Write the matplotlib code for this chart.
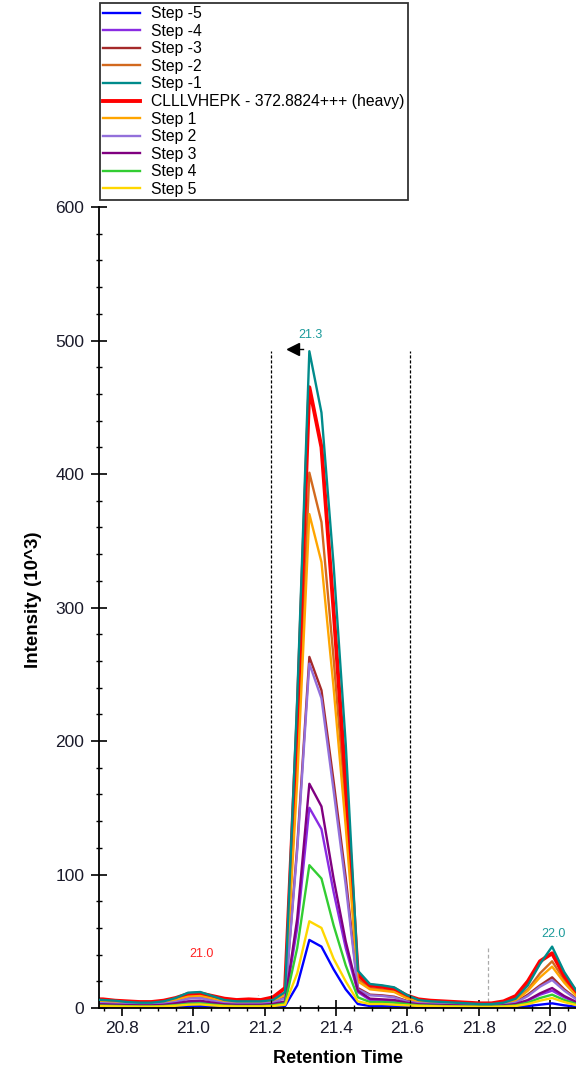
import matplotlib.pyplot as plt
from matplotlib.ticker import MultipleLocator

plt.rcParams['font.family'] = ['Liberation Sans', 'DejaVu Sans']

# retention times of the scans (minutes)
rt = [20.712, 20.746, 20.780, 20.814, 20.848, 20.882, 20.916, 20.950, 20.985, 21.019,
      21.053, 21.087, 21.121, 21.155, 21.189, 21.223, 21.257, 21.291, 21.325, 21.359,
      21.393, 21.427, 21.461, 21.495, 21.529, 21.563, 21.597, 21.631, 21.665, 21.700,
      21.734, 21.768, 21.802, 21.836, 21.870, 21.904, 21.938, 21.972, 22.006, 22.040,
      22.074, 22.108]

# intensities (10^3)
step_m5 = [1, 0.9, 0.8, 0.7, 0.6, 0.6, 0.7, 1, 1.5, 1.6, 1.2, 0.8, 0.7, 0.7, 0.7, 0.9, 1.5,
           17, 51, 46, 29, 14, 3, 1.5, 1.5, 1.5, 1,
           0.8, 0.7, 0.6, 0.6, 0.5, 0.5, 0.5, 0.6, 0.8, 1.5, 2.5, 3.5, 2, 1, 0.6]
step_m4 = [2.5, 2.3, 2, 1.8, 1.6, 1.6, 2, 3, 4.5, 4.8, 3.5, 2.3, 2, 2, 2, 2.5, 4.5,
           60, 150, 134, 87, 45, 12, 6, 5.5, 5, 3.5,
           2.5, 2.2, 2, 1.8, 1.6, 1.4, 1.4, 1.8, 2.5, 5.5, 10, 13, 8, 4, 2]
step_m3 = [4.5, 4, 3.5, 3.2, 3, 3, 3.5, 5, 7.5, 8, 6, 4, 3.5, 3.5, 3.5, 4.5, 8,
           121, 263, 238, 170, 98, 15, 10, 9.5, 8.5, 5.5,
           4, 3.5, 3, 2.8, 2.5, 2.3, 2.3, 2.8, 4.5, 10, 17, 23, 14, 7, 3.5]
step_m2 = [5.5, 5, 4.5, 4, 3.8, 3.8, 4.5, 6.5, 9.5, 10, 7.5, 5, 4.5, 4.5, 4.5, 5.5, 11,
           184, 401, 364, 262, 150, 22, 15, 14, 13, 8,
           5, 4.5, 4, 3.5, 3, 2.8, 2.8, 3.5, 6, 14, 26, 35, 21, 10, 5]
step_m1 = [6.5, 6, 5.5, 4.5, 4, 4, 5, 7.5, 11.5, 12, 9, 6, 5, 5, 5, 6, 12,
           232, 492, 446, 332, 198, 28, 18, 17, 15.5, 10,
           6, 5, 4.5, 4, 3.5, 3, 3, 4, 7, 17, 33, 46, 27, 13, 6]
heavy = [6.5, 6.5, 5.5, 5, 4.5, 4.5, 5.5, 7.5, 10.5, 11, 9, 7, 6, 6.5, 6, 8, 15,
         214, 465, 420, 298, 168, 25, 17, 16, 14.5, 9.5,
         6.5, 5.5, 5, 4.5, 4, 3.5, 3.5, 5, 9, 20, 35, 41, 24, 12, 5]
step_1 = [5, 4.5, 4, 3.6, 3.4, 3.4, 4, 6, 8.5, 9, 7, 4.5, 4, 4, 4, 5, 10,
          170, 370, 334, 240, 136, 20, 14, 13, 12, 7.5,
          4.5, 4, 3.5, 3.2, 2.8, 2.6, 2.6, 3.2, 5.5, 13, 23, 31, 19, 9, 4.5]
step_2 = [4, 3.6, 3.2, 3, 2.8, 2.8, 3.2, 4.5, 7, 7.5, 5.5, 3.6, 3.2, 3.2, 3.2, 4, 7.5,
          118, 258, 232, 163, 92, 14, 9.5, 9, 8, 5,
          3.6, 3.2, 2.8, 2.5, 2.3, 2.1, 2.1, 2.5, 4, 9, 16, 21, 13, 6.5, 3]
step_3 = [3, 2.8, 2.5, 2.2, 2, 2, 2.4, 3.5, 5, 5.5, 4, 2.8, 2.4, 2.4, 2.4, 3, 5,
          67, 168, 151, 97, 50, 13, 7, 6.5, 6, 4,
          2.8, 2.5, 2.2, 2, 1.8, 1.6, 1.6, 2, 3, 6, 11, 15, 9, 4.5, 2.5]
step_4 = [2, 1.8, 1.6, 1.4, 1.2, 1.2, 1.5, 2.2, 3.2, 3.5, 2.6, 1.8, 1.5, 1.5, 1.5, 2, 3.5,
          45, 107, 97, 62, 32, 8, 4.5, 4.5, 4, 3,
          2, 1.8, 1.5, 1.3, 1.2, 1.1, 1.1, 1.4, 2, 4, 7.5, 10, 6, 3, 1.5]
step_5 = [1.5, 1.4, 1.2, 1.1, 1, 1, 1.2, 1.7, 2.5, 2.7, 2, 1.4, 1.2, 1.2, 1.2, 1.5, 2.5,
          26, 65, 60, 37, 20, 5, 3, 3, 2.5, 2,
          1.6, 1.4, 1.2, 1.1, 1, 0.9, 0.9, 1.1, 1.5, 3, 5.5, 7.5, 4.5, 2.2, 1.2]

labels = ['Step -5', 'Step -4', 'Step -3', 'Step -2', 'Step -1',
          'CLLLVHEPK - 372.8824+++ (heavy)',
          'Step 1', 'Step 2', 'Step 3', 'Step 4', 'Step 5']
values = [step_m5, step_m4, step_m3, step_m2, step_m1, heavy,
          step_1, step_2, step_3, step_4, step_5]
colors = ['#0000FF', '#8A2BE2', '#A52A2A', '#D2691E', '#008B8B', '#FF0000',
          '#FFA500', '#9370DB', '#800080', '#32CD32', '#FFD700']

# integration boundaries and other retention-time markers
boundaries = [21.217, 21.608]
rt_markers = [21.18, 21.827]
rt_marker_heights = [10, 46]

fig = plt.figure(figsize=(5.76, 10.71), dpi=100)
ax = fig.add_axes([0.1719, 0.0588, 0.8281, 0.7479])

handles = []
for lab, vals, col in zip(labels, values, colors):
    lw = 2.8 if 'heavy' in lab else 1.7
    z = 3 if lab == 'Step -1' else 2
    h, = ax.plot(rt, vals, color=col, lw=lw, label=lab, zorder=z,
                 solid_joinstyle='round')
    handles.append(h)

for b in boundaries:
    ax.plot([b, b], [0, 492], color='black', lw=0.9, ls=(0, (2.5, 1.5)), zorder=5)
for m, hgt in zip(rt_markers, rt_marker_heights):
    ax.plot([m, m], [0, hgt], color='#aaaaaa', lw=0.9, ls=(0, (3, 2)), zorder=1)

# peak labels
def peak_label(idx, vals, col, dy):
    ax.annotate(f'{rt[idx]:.1f}', (rt[idx], vals[idx]), xytext=(1, dy),
                textcoords='offset points', ha='center', va='bottom',
                fontsize=9, color=col)

i_main = step_m1.index(max(step_m1))
peak_label(i_main, step_m1, '#1a9a9a', 7)
peak_label(9, heavy, '#FF2020', 24)
peak_label(38, step_m1, '#1a9a9a', 5)

# apex flag
ax.plot([rt[i_main] - 0.05, rt[i_main] - 0.018], [step_m1[i_main] + 2] * 2,
        color='black', lw=1, zorder=6)
ax.plot([rt[i_main] - 0.047], [step_m1[i_main] + 2], marker='<', color='black',
        markersize=8, zorder=6, clip_on=False)

ax.set_xlim(20.735, 22.073)
ax.set_ylim(0, 600)
ax.xaxis.set_major_locator(MultipleLocator(0.2))
ax.xaxis.set_minor_locator(MultipleLocator(0.05))
ax.yaxis.set_major_locator(MultipleLocator(100))
ax.yaxis.set_minor_locator(MultipleLocator(20))
ax.xaxis.set_major_formatter(plt.FuncFormatter(lambda v, p: f'{v:.1f}'))

ax.tick_params(which='major', direction='inout', length=11, width=1.2,
               labelsize=12.5, pad=5, colors='black', labelcolor='#1a1a2a')
ax.tick_params(which='minor', direction='inout', length=5, width=1.0)
ax.tick_params(axis='x', which='major', pad=4)

for s in ['top', 'right']:
    ax.spines[s].set_visible(False)
for s in ['left', 'bottom']:
    ax.spines[s].set_linewidth(1.3)

ax.set_xlabel('Retention Time', fontsize=13, fontweight='bold')
ax.set_ylabel('Intensity (10^3)', fontsize=13.5, fontweight='bold')
ax.xaxis.set_label_coords(0.5, -0.052)
ax.yaxis.set_label_coords(-0.12, 0.51)

leg = fig.legend(handles=handles, loc='upper left', bbox_to_anchor=(0.1736, 0.9972),
                 fontsize=11.3, frameon=True, fancybox=False, edgecolor='black',
                 handlelength=2.3, handletextpad=0.75, labelspacing=0.16,
                 borderpad=0.22, borderaxespad=0)
leg.get_frame().set_linewidth(1.3)

fig.savefig('out.png', dpi=100)
